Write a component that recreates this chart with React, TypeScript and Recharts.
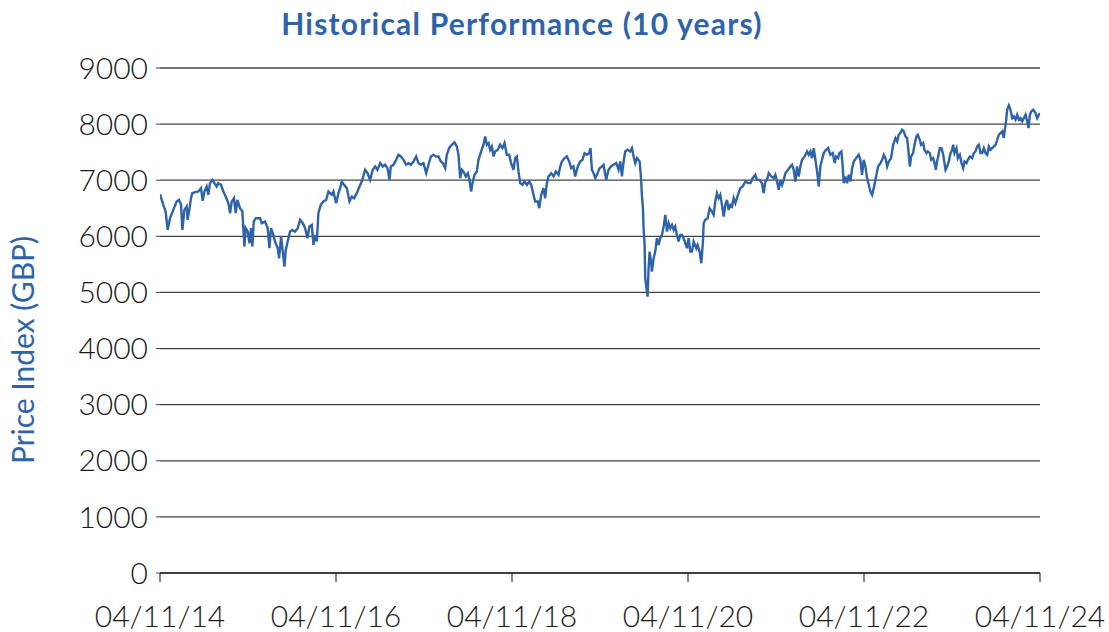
import React from "react";
import { LineChart, Line, XAxis, YAxis, CartesianGrid } from "recharts";

// [decimal year, index level]
const seg2014to2016: [number, number][] = [
  [2014.843, 6751], [2014.881, 6561], [2014.907, 6442], [2014.93, 6115], [2014.957, 6323], [2014.994, 6472],
  [2015.032, 6621], [2015.059, 6650], [2015.082, 6561], [2015.097, 6115], [2015.12, 6472], [2015.146, 6531],
  [2015.157, 6294], [2015.176, 6472], [2015.195, 6680], [2015.21, 6769], [2015.241, 6787], [2015.279, 6799],
  [2015.309, 6859], [2015.328, 6633], [2015.347, 6799], [2015.373, 6888], [2015.392, 6740], [2015.411, 6948],
  [2015.438, 7007], [2015.461, 6948], [2015.487, 6888], [2015.506, 6948], [2015.536, 6918], [2015.563, 6799],
  [2015.589, 6710], [2015.62, 6591], [2015.639, 6412], [2015.658, 6621], [2015.684, 6680], [2015.703, 6412],
  [2015.722, 6650], [2015.752, 6502], [2015.779, 6442], [2015.79, 6145], [2015.802, 5818], [2015.817, 6145],
  [2015.84, 6085], [2015.859, 5877], [2015.878, 6145], [2015.893, 5818], [2015.908, 6264], [2015.931, 6323],
  [2015.953, 6323], [2015.98, 6323], [2015.999, 6234], [2016.037, 6264], [2016.067, 6145], [2016.086, 5788],
  [2016.105, 6145], [2016.131, 6026], [2016.15, 5907], [2016.181, 5788], [2016.196, 5609], [2016.219, 5996],
  [2016.238, 5728], [2016.257, 5461], [2016.272, 5758], [2016.294, 5907], [2016.321, 6085], [2016.347, 6115],
  [2016.378, 6085], [2016.408, 6145], [2016.435, 6294],
];

const seg2016to2018: [number, number][] = [
  [2016.465, 6234], [2016.492, 6145], [2016.518, 5966], [2016.541, 6175], [2016.568, 6204], [2016.587, 5847],
  [2016.606, 6026], [2016.625, 5907], [2016.643, 6412], [2016.67, 6561], [2016.7, 6621], [2016.731, 6650],
  [2016.757, 6799], [2016.776, 6769], [2016.795, 6740], [2016.814, 6799], [2016.844, 6591], [2016.871, 6769],
  [2016.89, 6859], [2016.909, 6977], [2016.935, 6918], [2016.966, 6859], [2016.996, 6621], [2017.022, 6710],
  [2017.049, 6680], [2017.079, 6769], [2017.11, 6888], [2017.136, 6977], [2017.174, 7186], [2017.201, 7126],
  [2017.231, 7007], [2017.261, 7186], [2017.288, 7245], [2017.314, 7186], [2017.345, 7305], [2017.375, 7245],
  [2017.401, 7275], [2017.428, 7215], [2017.451, 7007], [2017.466, 7245], [2017.496, 7275], [2017.527, 7364],
  [2017.553, 7453], [2017.58, 7424], [2017.61, 7364], [2017.64, 7275], [2017.667, 7305], [2017.693, 7275],
  [2017.724, 7334], [2017.754, 7424], [2017.78, 7305], [2017.807, 7275], [2017.837, 7305], [2017.868, 7126],
  [2017.894, 7275], [2017.921, 7424], [2017.951, 7453], [2017.981, 7424], [2018.008, 7424], [2018.034, 7334],
  [2018.057, 7305], [2018.084, 7215],
];

const seg2018to2019: [number, number][] = [
  [2018.102, 7453], [2018.128, 7572], [2018.159, 7632], [2018.189, 7673], [2018.216, 7602], [2018.235, 7453],
  [2018.254, 7037], [2018.273, 7186], [2018.291, 7156], [2018.318, 7067], [2018.341, 7126], [2018.356, 7037],
  [2018.379, 6799], [2018.394, 6948], [2018.417, 7096], [2018.443, 7156], [2018.462, 7364], [2018.492, 7513],
  [2018.519, 7632], [2018.538, 7781], [2018.557, 7632], [2018.576, 7662], [2018.595, 7543], [2018.614, 7602],
  [2018.633, 7424], [2018.652, 7513], [2018.682, 7543], [2018.708, 7632], [2018.735, 7572], [2018.758, 7662],
  [2018.784, 7453], [2018.811, 7453], [2018.833, 7305], [2018.86, 7186], [2018.879, 7394], [2018.898, 7424],
  [2018.917, 7156], [2018.936, 6948], [2018.962, 6918], [2018.985, 6977], [2019.012, 6918], [2019.038, 6977],
  [2019.061, 6918], [2019.087, 6740], [2019.106, 6621], [2019.137, 6621], [2019.152, 6502], [2019.175, 6740],
  [2019.201, 6859], [2019.22, 6680], [2019.239, 6948], [2019.258, 7067], [2019.288, 7126], [2019.315, 7067],
  [2019.341, 7156], [2019.372, 7096], [2019.391, 7245], [2019.41, 7334], [2019.44, 7394], [2019.466, 7424],
  [2019.493, 7334], [2019.516, 7215], [2019.542, 7245], [2019.561, 7067], [2019.591, 7245], [2019.618, 7334],
  [2019.644, 7364], [2019.667, 7483], [2019.694, 7453], [2019.72, 7483], [2019.735, 7572],
];

const seg2019to2021: [number, number][] = [
  [2019.751, 7186], [2019.77, 7126], [2019.789, 7037], [2019.808, 7096], [2019.838, 7215], [2019.865, 7245],
  [2019.884, 7275], [2019.903, 7096], [2019.914, 7007], [2019.94, 7186], [2019.967, 7245], [2019.997, 7275],
  [2020.028, 7305], [2020.054, 7186], [2020.073, 7334], [2020.092, 7067], [2020.111, 7334], [2020.13, 7513],
  [2020.156, 7543], [2020.187, 7513], [2020.206, 7572], [2020.225, 7424], [2020.244, 7305], [2020.263, 7394],
  [2020.293, 7334], [2020.308, 7067], [2020.319, 6740], [2020.331, 6502], [2020.338, 6145], [2020.35, 5847],
  [2020.357, 5253], [2020.376, 5015], [2020.384, 4925], [2020.395, 5431], [2020.407, 5728], [2020.422, 5550],
  [2020.433, 5372], [2020.452, 5609], [2020.471, 5728], [2020.49, 5966], [2020.509, 5847], [2020.528, 5966],
  [2020.547, 6026], [2020.566, 6175], [2020.585, 6383], [2020.604, 6085], [2020.623, 6234], [2020.642, 6145],
  [2020.661, 6204], [2020.68, 6115], [2020.698, 6175], [2020.717, 6026], [2020.736, 5907], [2020.755, 6026],
  [2020.774, 6026], [2020.793, 5966], [2020.812, 5877], [2020.831, 5788], [2020.85, 5966], [2020.869, 5728],
  [2020.888, 5728], [2020.907, 5907], [2020.937, 5788], [2020.952, 5847], [2020.975, 5728], [2020.994, 5520],
  [2021.013, 5907], [2021.021, 6234], [2021.04, 6294], [2021.066, 6323], [2021.089, 6502], [2021.115, 6442],
  [2021.134, 6383], [2021.153, 6621], [2021.172, 6769], [2021.191, 6680], [2021.21, 6740], [2021.229, 6561],
  [2021.248, 6353], [2021.267, 6561], [2021.286, 6650], [2021.305, 6472], [2021.324, 6561], [2021.343, 6531],
  [2021.362, 6680], [2021.381, 6591],
];

const seg2021to2023: [number, number][] = [
  [2021.411, 6740], [2021.438, 6859], [2021.464, 6888], [2021.495, 6977], [2021.525, 6948], [2021.552, 6948],
  [2021.578, 7037], [2021.608, 7096], [2021.627, 7007], [2021.654, 7007], [2021.684, 6948], [2021.703, 6769],
  [2021.722, 6977], [2021.741, 7007], [2021.76, 7126], [2021.79, 7067], [2021.817, 7037], [2021.836, 7096],
  [2021.855, 6977], [2021.874, 6829], [2021.893, 7007], [2021.912, 6918], [2021.931, 7007], [2021.95, 7126],
  [2021.98, 7186], [2022.006, 7245], [2022.025, 7275], [2022.044, 7186], [2022.063, 6977], [2022.082, 7245],
  [2022.101, 7067], [2022.12, 7245], [2022.139, 7364], [2022.169, 7424], [2022.196, 7513], [2022.215, 7453],
  [2022.234, 7513], [2022.253, 7394], [2022.272, 7572], [2022.291, 7364], [2022.31, 7156], [2022.329, 6888],
  [2022.347, 7245], [2022.366, 7364], [2022.385, 7483], [2022.412, 7543], [2022.435, 7572], [2022.461, 7453],
  [2022.488, 7483], [2022.51, 7305], [2022.526, 7424], [2022.548, 7394], [2022.563, 7483], [2022.586, 7513],
  [2022.601, 7245], [2022.613, 6948], [2022.632, 7067], [2022.651, 6948], [2022.67, 7096], [2022.689, 6977],
  [2022.708, 7215], [2022.727, 7334], [2022.753, 7394], [2022.783, 7453], [2022.802, 7364], [2022.821, 7096],
  [2022.84, 7364], [2022.859, 7245], [2022.878, 7037], [2022.897, 6918], [2022.916, 6799], [2022.935, 6740],
  [2022.954, 6859], [2022.973, 7007], [2023.003, 7245], [2023.03, 7305],
];

const seg2023to2024: [number, number][] = [
  [2023.049, 7364], [2023.068, 7453], [2023.087, 7394], [2023.106, 7245], [2023.125, 7334], [2023.151, 7394],
  [2023.174, 7632], [2023.201, 7751], [2023.22, 7691], [2023.238, 7810], [2023.257, 7840], [2023.276, 7899],
  [2023.295, 7870], [2023.314, 7781], [2023.333, 7751], [2023.352, 7453], [2023.364, 7245], [2023.379, 7424],
  [2023.401, 7483], [2023.417, 7632], [2023.439, 7781], [2023.454, 7810], [2023.477, 7721], [2023.492, 7632],
  [2023.515, 7662], [2023.53, 7543], [2023.553, 7483], [2023.568, 7513], [2023.591, 7483], [2023.606, 7364],
  [2023.629, 7394], [2023.644, 7305], [2023.659, 7186], [2023.674, 7334], [2023.705, 7572], [2023.724, 7572],
  [2023.743, 7453], [2023.769, 7186], [2023.788, 7245], [2023.807, 7334], [2023.826, 7483], [2023.845, 7543],
  [2023.856, 7632], [2023.871, 7483], [2023.894, 7572], [2023.909, 7394], [2023.932, 7453], [2023.951, 7305],
  [2023.97, 7215], [2023.985, 7334], [2024.008, 7305], [2024.023, 7364], [2024.046, 7424], [2024.072, 7394],
  [2024.091, 7483], [2024.11, 7513], [2024.129, 7602], [2024.148, 7632], [2024.167, 7483], [2024.186, 7483],
  [2024.205, 7572], [2024.224, 7483], [2024.243, 7453], [2024.262, 7602], [2024.281, 7543], [2024.3, 7572],
  [2024.319, 7602], [2024.338, 7632], [2024.357, 7721], [2024.375, 7810], [2024.394, 7840], [2024.413, 7870],
  [2024.432, 7751], [2024.44, 7870], [2024.455, 8018], [2024.47, 8256], [2024.489, 8334], [2024.508, 8256],
  [2024.527, 8108], [2024.546, 8137], [2024.565, 8078], [2024.584, 8167], [2024.603, 8078], [2024.622, 8108],
  [2024.641, 8048], [2024.66, 8108], [2024.679, 8167], [2024.698, 8048], [2024.713, 7929], [2024.728, 8167],
  [2024.743, 8227], [2024.766, 8256], [2024.792, 8197], [2024.811, 8108], [2024.83, 8167], [2024.843, 8197],
];

const xTicks = [2014.843, 2016.843, 2018.843, 2020.843, 2022.843, 2024.843];
const xLabels = ["04/11/14", "04/11/16", "04/11/18", "04/11/20", "04/11/22", "04/11/24"];
const yTicks = [0, 1000, 2000, 3000, 4000, 5000, 6000, 7000, 8000, 9000];

const data = [
  ...seg2014to2016,
  ...seg2016to2018,
  ...seg2018to2019,
  ...seg2019to2021,
  ...seg2021to2023,
  ...seg2023to2024,
].map(([t, price]) => ({ t, price }));

const BLUE = "#2e63aa";
const tickFont = { fontFamily: "Lato, 'DejaVu Sans', sans-serif", fontWeight: 300, fontSize: 30, fill: "#1a1a1a" };

export default function App() {
  return (
    <div style={{ position: "absolute", left: 0, top: 0, width: 1109, height: 632, background: "#fff" }}>
      <LineChart width={1109} height={632} data={data} margin={{ top: 68, right: 69, bottom: 9, left: 0 }}>
        <CartesianGrid vertical={false} stroke="#444" strokeWidth={1.3} />
        <XAxis
          dataKey="t"
          type="number"
          domain={[xTicks[0], xTicks[xTicks.length - 1]]}
          ticks={xTicks}
          tickFormatter={(_v, i) => xLabels[i]}
          allowDataOverflow
          height={50}
          tickSize={9}
          tickMargin={24}
          stroke="#111"
          tick={tickFont}
          interval={0}
        />
        <YAxis
          domain={[0, 9000]}
          ticks={yTicks}
          width={160}
          axisLine={false}
          tickSize={4}
          tickMargin={8}
          tickLine={{ stroke: "#444" }}
          tick={tickFont}
          interval={0}
        />
        <Line
          type="linear"
          dataKey="price"
          stroke={BLUE}
          strokeWidth={2.4}
          dot={false}
          isAnimationActive={false}
        />
      </LineChart>
      <svg width={1109} height={632} style={{ position: "absolute", left: 0, top: 0, pointerEvents: "none" }}>
        <text
          x={522}
          y={35}
          textAnchor="middle"
          fill={BLUE}
          style={{ fontFamily: "Lato, sans-serif", fontWeight: 700, fontSize: 30, letterSpacing: 1.2 }}
        >
          Historical Performance (10 years)
        </text>
        <text
          transform="translate(34,350) rotate(-90)"
          textAnchor="middle"
          fill={BLUE}
          style={{ fontFamily: "Lato, sans-serif", fontWeight: 400, fontSize: 30 }}
        >
          Price Index (GBP)
        </text>
      </svg>
    </div>
  );
}
